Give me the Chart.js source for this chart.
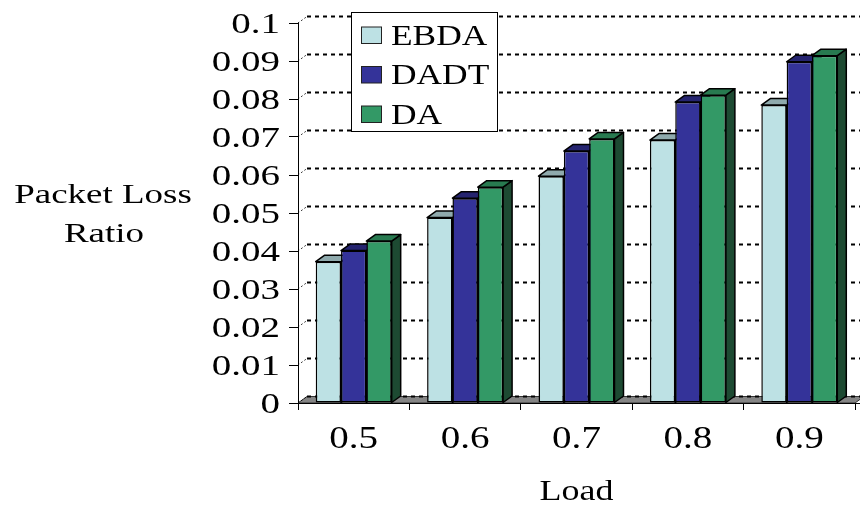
<!DOCTYPE html>
<html lang="en">
<head>
    <meta charset="UTF-8">
    <title>Packet Loss Ratio vs Load</title>
    <script src="https://cdn.jsdelivr.net/npm/chart.js"></script>
    <style>
        body { margin: 0; background: #fff; }
        #wrap { position: relative; width: 860px; height: 505px; }
    </style>
</head>
<body>
    <div id="wrap">
        <canvas id="lossChart"></canvas>
    </div>

    <script>
        // Load values on the x axis
        const loads = ['0.5', '0.6', '0.7', '0.8', '0.9'];

        // Packet loss ratio per protocol
        const ebda = [0.0372, 0.0488, 0.0597, 0.0692, 0.0784];
        const dadt = [0.0401, 0.0539, 0.0663, 0.0792, 0.0898];
        const da   = [0.0426, 0.0568, 0.0695, 0.0810, 0.0914];

        const yTickLabels = ['0', '0.01', '0.02', '0.03', '0.04', '0.05', '0.06', '0.07', '0.08', '0.09', '0.1'];

        const FONT = '"Liberation Serif", "Times New Roman", serif';
        const DX = 9, DY = 6.5;   // depth of the 3d effect
        const SX = 1.27;          // wide text

        function wideText(ctx, text, x, y, size, align, sx) {
            ctx.save();
            ctx.translate(x, y);
            ctx.scale(sx || SX, 1);
            ctx.font = size + 'px ' + FONT;
            ctx.fillStyle = '#000';
            ctx.textAlign = align;
            ctx.textBaseline = 'alphabetic';
            ctx.fillText(text, 0, 0);
            ctx.restore();
        }

        function poly(ctx, pts, fill) {
            ctx.beginPath();
            ctx.moveTo(pts[0][0], pts[0][1]);
            for (let i = 1; i < pts.length; i++) ctx.lineTo(pts[i][0], pts[i][1]);
            ctx.closePath();
            ctx.fillStyle = fill;
            ctx.fill();
            ctx.stroke();
        }

        // floor, back wall grid and the top/side faces of each column
        const depthPlugin = {
            id: 'depth',
            beforeDatasetsDraw(chart) {
                const { ctx, chartArea: { left, right, bottom } } = chart;
                const y = chart.scales.y;
                ctx.save();

                ctx.lineWidth = 1;
                ctx.strokeStyle = '#333';
                poly(ctx, [[left, bottom], [right, bottom], [right + DX, bottom - DY], [left + DX, bottom - DY]], '#858585');

                ctx.strokeStyle = '#000';
                y.ticks.forEach(t => {
                    const py = Math.round(y.getPixelForValue(t.value)) - DY;
                    ctx.setLineDash([4, 4]);
                    ctx.lineWidth = 2;
                    ctx.beginPath();
                    ctx.moveTo(left + DX, py);
                    ctx.lineTo(chart.width, py);
                    ctx.stroke();
                    ctx.setLineDash([1.5, 2.5]);
                    ctx.lineWidth = 1;
                    ctx.beginPath();
                    ctx.moveTo(left, py + DY);
                    ctx.lineTo(left + DX, py);
                    ctx.stroke();
                });
                ctx.setLineDash([]);

                // front edge of the floor
                ctx.lineWidth = 1;
                ctx.beginPath();
                ctx.moveTo(left - 1, bottom + 0.5);
                ctx.lineTo(chart.width, bottom + 0.5);
                ctx.stroke();

                ctx.lineWidth = 1.5;
                ctx.lineJoin = 'round';
                chart.data.datasets.forEach((ds, i) => {
                    chart.getDatasetMeta(i).data.forEach(bar => {
                        const l = bar.x - bar.width / 2;
                        const r = bar.x + bar.width / 2;
                        const t = bar.y, b = bar.base;
                        poly(ctx, [[r, b], [r, t], [r + DX, t - DY], [r + DX, b - DY]], ds.sideColor);
                        poly(ctx, [[l, t], [r, t], [r + DX, t - DY], [l + DX, t - DY]], ds.topColor);
                    });
                });
                ctx.restore();
            },
            afterDraw(chart) {
                const { ctx, chartArea: { left, right } } = chart;
                const x = chart.scales.x, y = chart.scales.y;

                // tick labels
                y.ticks.forEach(t => {
                    wideText(ctx, t.label, 280, y.getPixelForValue(t.value) + 10, 30, 'right', 1.3);
                });
                x.ticks.forEach((t, i) => {
                    wideText(ctx, t.label, x.getPixelForTick(i), 448, 31, 'center', 1.26);
                });

                // axis titles
                wideText(ctx, 'Packet Loss', 103, 203, 28, 'center', 1.32);
                wideText(ctx, 'Ratio', 104, 242, 28, 'center', 1.32);
                wideText(ctx, 'Load', (left + right) / 2, 500, 29, 'center', 1.24);

                // legend
                ctx.save();
                ctx.fillStyle = '#fff';
                ctx.fillRect(351, 12, 146, 120);
                ctx.strokeStyle = '#000';
                ctx.lineWidth = 1;
                ctx.strokeRect(351.5, 12.5, 146, 119);
                chart.data.datasets.forEach((ds, i) => {
                    const top = 27 + i * 39.5;
                    ctx.fillStyle = ds.backgroundColor;
                    ctx.fillRect(361.5, top, 20, 16.5);
                    ctx.strokeStyle = '#222';
                    ctx.strokeRect(361.5, top, 20, 16.5);
                    wideText(ctx, ds.label, 391, top + 17.5, 29, 'left', 1.22);
                });
                ctx.restore();
            }
        };

        const ctx = document.getElementById('lossChart').getContext('2d');
        new Chart(ctx, {
            type: 'bar',
            data: {
                labels: loads,
                datasets: [
                    { label: 'EBDA', data: ebda, backgroundColor: '#bde1e4', topColor: '#8faaad', sideColor: '#7e9c9f' },
                    { label: 'DADT', data: dadt, backgroundColor: '#343399', topColor: '#252470', sideColor: '#1f1e5e' },
                    { label: 'DA',   data: da,   backgroundColor: '#339966', topColor: '#287a50', sideColor: '#1d4a32' }
                ].map(ds => Object.assign(ds, {
                    borderColor: '#000',
                    borderWidth: 1.5,
                    borderSkipped: false,
                    categoryPercentage: 0.682,
                    barPercentage: 1.0
                }))
            },
            options: {
                responsive: true,
                maintainAspectRatio: false,
                animation: false,
                layout: { padding: { top: 23, right: 5, left: 0, bottom: 0 } },
                plugins: {
                    legend: { display: false },
                    tooltip: { enabled: false }
                },
                scales: {
                    x: {
                        grid: { display: true, drawOnChartArea: false, drawTicks: true, tickLength: 7, color: '#000', offset: true },
                        border: { display: true, color: '#000', width: 1 },
                        ticks: { display: false },
                        afterFit(scale) { scale.height = 102; }
                    },
                    y: {
                        min: 0,
                        max: 0.1,
                        grid: { display: true, drawOnChartArea: false, drawTicks: true, tickLength: 9, color: '#000' },
                        border: { display: true, color: '#000', width: 1 },
                        ticks: {
                            display: false,
                            stepSize: 0.01,
                            callback: (value, index) => yTickLabels[index]
                        },
                        afterFit(scale) { scale.width = 298; }
                    }
                }
            },
            plugins: [depthPlugin]
        });
    </script>
</body>
</html>
